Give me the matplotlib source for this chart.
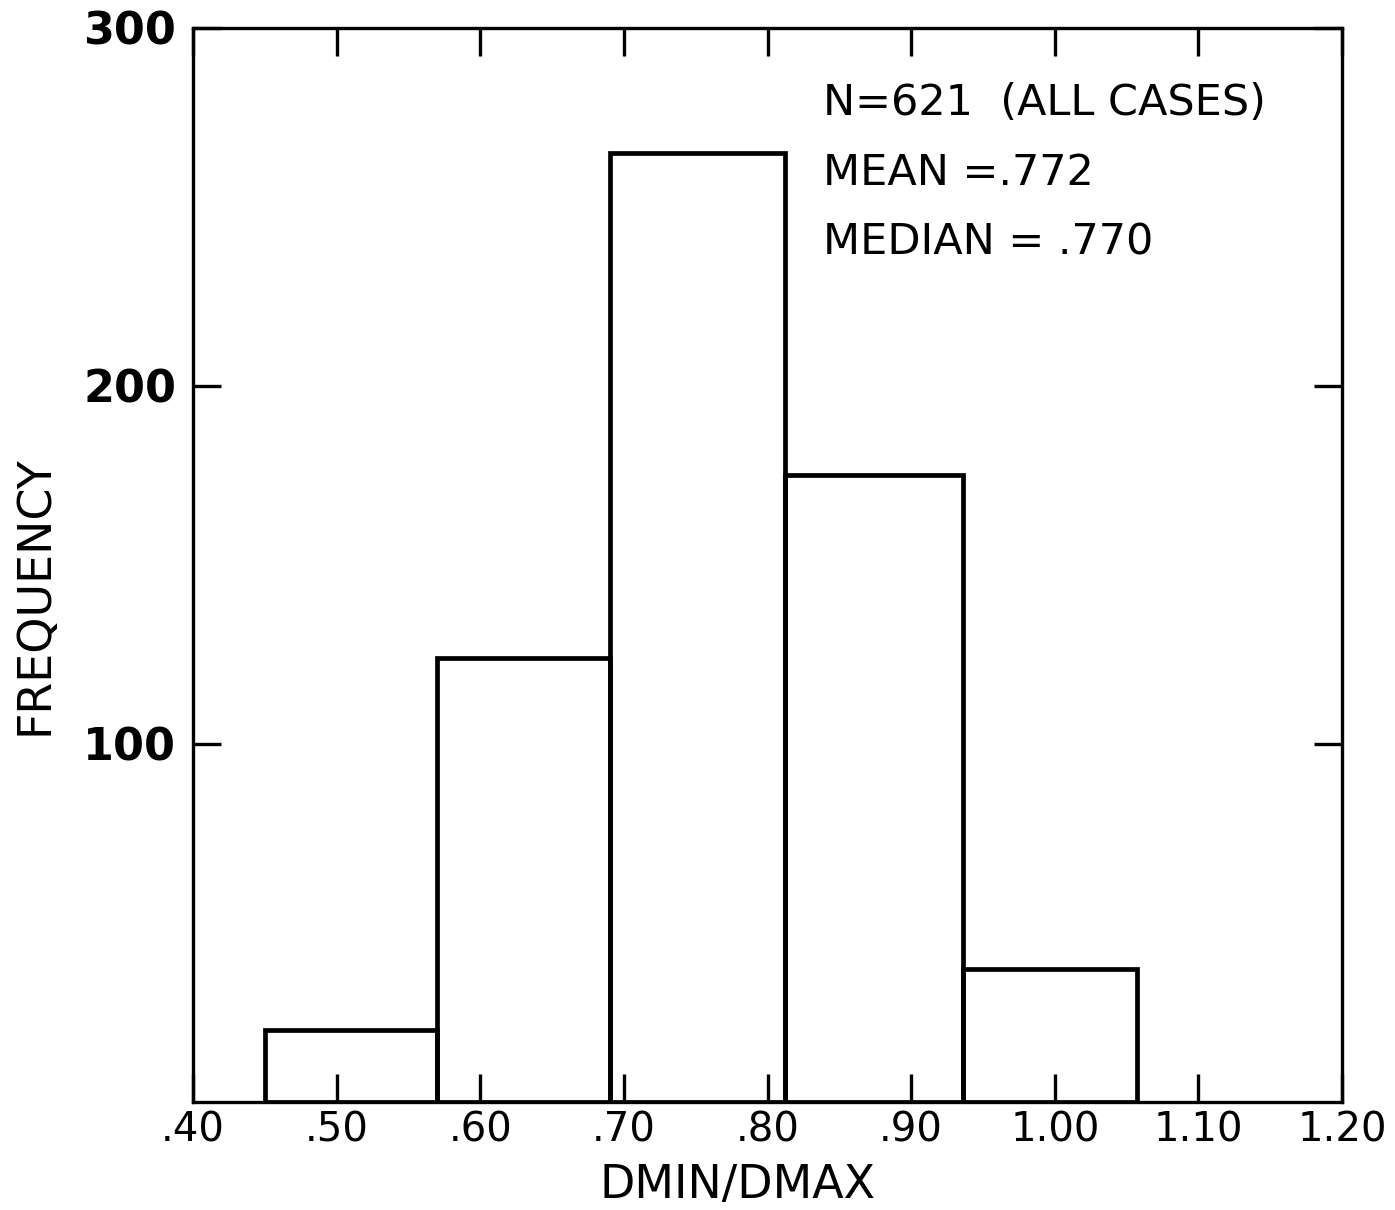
#!/usr/bin/env python3
"""
Histogram of DMIN/DMAX ratio for all cases
"""
import matplotlib
matplotlib.use('Agg')
import matplotlib.pyplot as plt

# Bin edges and counts per bin
bin_edges = [0.45, 0.57, 0.69, 0.812, 0.936, 1.057]
counts = [20, 124, 265, 175, 37]

x_ticks = [0.40, 0.50, 0.60, 0.70, 0.80, 0.90, 1.00, 1.10, 1.20]
x_tick_labels = ['.40', '.50', '.60', '.70', '.80', '.90', '1.00', '1.10', '1.20']
y_ticks = [100, 200, 300]
y_tick_labels = ['100', '200', '300']

stats_lines = ['N=621  (ALL CASES)', 'MEAN =.772', 'MEDIAN = .770']

fig = plt.figure(figsize=(13.95, 12.10), dpi=100)
ax = fig.add_axes([0.1384, 0.0893, 0.8236, 0.8876])

widths = [b - a for a, b in zip(bin_edges[:-1], bin_edges[1:])]
ax.bar(bin_edges[:-1], counts, width=widths, align='edge',
       fill=False, edgecolor='black', linewidth=3.4, joinstyle='miter')

ax.set_xlim(0.40, 1.20)
ax.set_ylim(0, 300)

for side in ax.spines.values():
    side.set_linewidth(2.4)

ax.set_xticks(x_ticks)
ax.set_xticklabels(x_tick_labels, fontsize=29, family='DejaVu Sans')
ax.set_yticks(y_ticks)
ax.set_yticklabels(y_tick_labels, fontsize=32, fontweight='bold', family='DejaVu Sans')
ax.tick_params(axis='both', direction='in', length=20, width=2.4,
               top=True, right=True)
ax.tick_params(axis='x', pad=6)
ax.tick_params(axis='y', pad=12)

ax.set_xlabel('DMIN/DMAX', fontsize=33)
ax.set_ylabel('FREQUENCY', fontsize=33)
ax.xaxis.set_label_coords(0.474, -0.057)
ax.yaxis.set_label_coords(-0.118, 0.472)

for i, line in enumerate(stats_lines):
    ax.text(0.548, 0.93 - i * 0.065, line, transform=ax.transAxes,
            fontsize=31, va='center', ha='left')

plt.savefig('out.png', dpi=100)
plt.close()
